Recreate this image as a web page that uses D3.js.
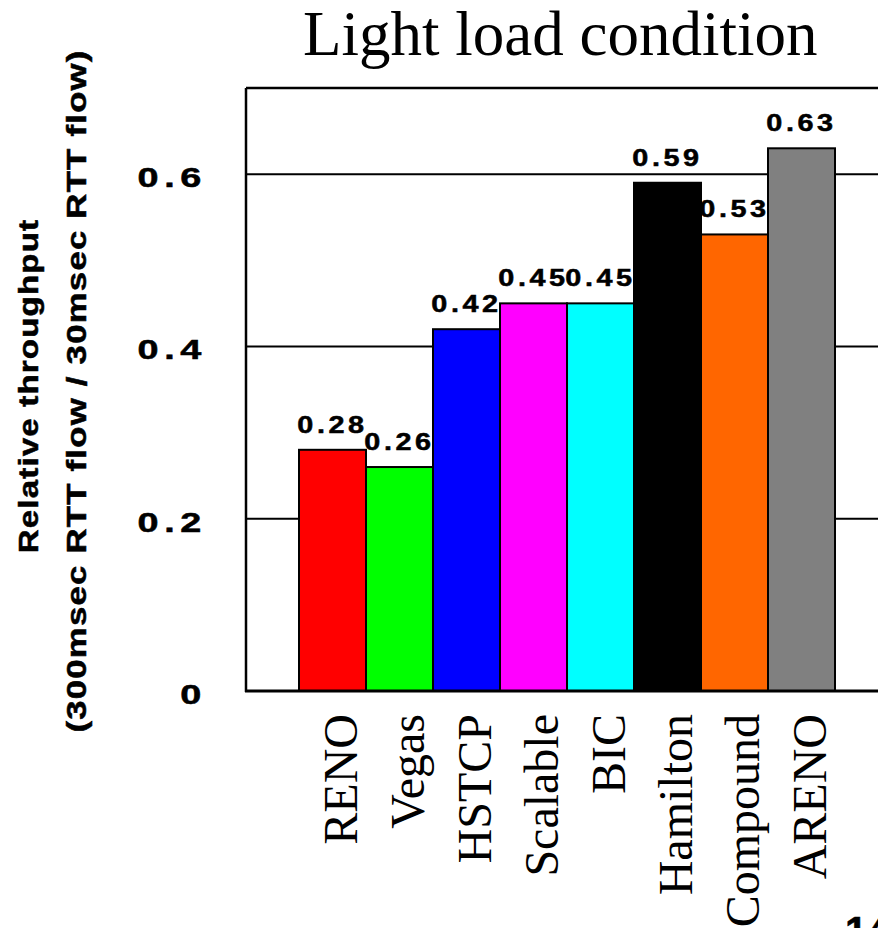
<!DOCTYPE html>
<html lang="en">
<head>
	<meta charset="UTF-8">
	<title>Light load condition</title>
	<script src="https://cdn.jsdelivr.net/npm/d3@7/dist/d3.min.js"></script>
	<style>
		body { margin: 0; background: #fff; }
		svg { display: block; }
		.tick-label, .val-label, .ytitle { font-family: "Liberation Sans", Arial, sans-serif; font-weight: bold; fill: #000; stroke: #000; stroke-width: 0.5px; }
		.serif { font-family: "Liberation Serif", "Times New Roman", serif; fill: #000; }
	</style>
</head>
<body>
	<div id="container"></div>
	<script>
		// data
		var categories = ["RENO", "Vegas", "HSTCP", "Scalable", "BIC", "Hamilton", "Compound", "ARENO"];
		var values = [0.28, 0.26, 0.42, 0.45, 0.45, 0.59, 0.53, 0.63];
		var colors = ["#ff0000", "#00ff00", "#0000ff", "#ff00ff", "#00ffff", "#000000", "#ff6600", "#808080"];
		var yTicks = [0, 0.2, 0.4, 0.6];
		var yTickLabels = ["0", "0.2", "0.4", "0.6"];

		var width = 878, height = 928;
		var plotLeft = 246, plotTop = 88, plotBottom = 691, plotRight = 920;

		var svg = d3.select("#container").append("svg")
				.attr("width", width)
				.attr("height", height);

		// the original uses a wide bold sans, so stretch the glyphs sideways
		function widen(sel, factor) {
			sel.each(function() {
				var len = this.getComputedTextLength();
				d3.select(this)
					.attr("textLength", len * factor)
					.attr("lengthAdjust", "spacingAndGlyphs");
			});
		}

		var y = d3.scaleLinear()
				.domain([0, 0.7])
				.range([plotBottom, plotTop]);

		var x = d3.scaleBand()
				.domain(categories)
				.range([299, 835])
				.padding(0);

		// title
		svg.append("text")
			.attr("class", "serif")
			.attr("x", 303)
			.attr("y", 55)
			.style("font-size", "63px")
			.text("Light load condition");

		// gridlines (behind bars)
		svg.selectAll(".grid").data(yTicks.filter(function(d){ return d > 0; }))
			.enter().append("line")
				.attr("class", "grid")
				.attr("x1", plotLeft)
				.attr("x2", plotRight)
				.attr("y1", function(d){ return y(d); })
				.attr("y2", function(d){ return y(d); })
				.style("stroke", "#000")
				.style("stroke-width", 2);

		// frame: top and left
		svg.append("line")
			.attr("x1", plotLeft).attr("x2", plotRight)
			.attr("y1", plotTop).attr("y2", plotTop)
			.style("stroke", "#000").style("stroke-width", 2.5);

		svg.append("line")
			.attr("x1", plotLeft).attr("x2", plotLeft)
			.attr("y1", plotTop).attr("y2", plotBottom + 1)
			.style("stroke", "#000").style("stroke-width", 2.5);

		// bars
		svg.selectAll(".bar").data(values)
			.enter().append("rect")
				.attr("class", "bar")
				.attr("x", function(d, i){ return x(categories[i]); })
				.attr("y", function(d){ return y(d); })
				.attr("width", x.bandwidth())
				.attr("height", function(d){ return plotBottom - y(d); })
				.attr("fill", function(d, i){ return colors[i]; })
				.style("stroke", "#000")
				.style("stroke-width", 2);

		// bottom axis line
		svg.append("line")
			.attr("x1", plotLeft - 1).attr("x2", plotRight)
			.attr("y1", plotBottom).attr("y2", plotBottom)
			.style("stroke", "#000").style("stroke-width", 3);

		// value labels
		svg.selectAll(".val-label").data(values)
			.enter().append("text")
				.attr("class", "val-label")
				.attr("x", function(d, i){ return x(categories[i]) + x.bandwidth() / 2; })
				.attr("y", function(d){ return y(d) - 17; })
				.attr("text-anchor", "middle")
				.style("font-size", "24px")
				.style("letter-spacing", "3px")
				.text(function(d){ return d.toFixed(2); })
				.call(widen, 1.2);

		// y tick labels
		svg.selectAll(".tick-label").data(yTicks)
			.enter().append("text")
				.attr("class", "tick-label")
				.attr("x", 207)
				.attr("y", function(d){ return y(d) + 13; })
				.attr("text-anchor", "end")
				.style("font-size", "27px")
				.style("letter-spacing", "4px")
				.text(function(d, i){ return yTickLabels[i]; })
				.call(widen, 1.4);

		// x category labels (rotated)
		svg.selectAll(".cat-label").data(categories)
			.enter().append("text")
				.attr("class", "serif cat-label")
				.attr("transform", function(d){
					return "translate(" + (x(d) + x.bandwidth() / 2 + 24) + ",714) rotate(-90)";
				})
				.attr("text-anchor", "end")
				.style("font-size", "48px")
				.text(function(d){ return d; });

		// y axis title
		svg.append("text")
			.attr("class", "ytitle")
			.attr("transform", "translate(38,386) rotate(-90)")
			.attr("text-anchor", "middle")
			.style("font-size", "28px")
			.style("letter-spacing", "1px")
			.text("Relative throughput")
			.call(widen, 1.18);

		svg.append("text")
			.attr("class", "ytitle")
			.attr("transform", "translate(86,391) rotate(-90)")
			.attr("text-anchor", "middle")
			.style("font-size", "28px")
			.style("letter-spacing", "1px")
			.text("(300msec RTT flow / 30msec RTT flow)")
			.call(widen, 1.24);

		// fragment of neighbouring figure at bottom right
		svg.append("text")
			.attr("class", "tick-label")
			.attr("x", 845)
			.attr("y", 945)
			.style("font-size", "40px")
			.text("14");
	</script>
</body>
</html>
